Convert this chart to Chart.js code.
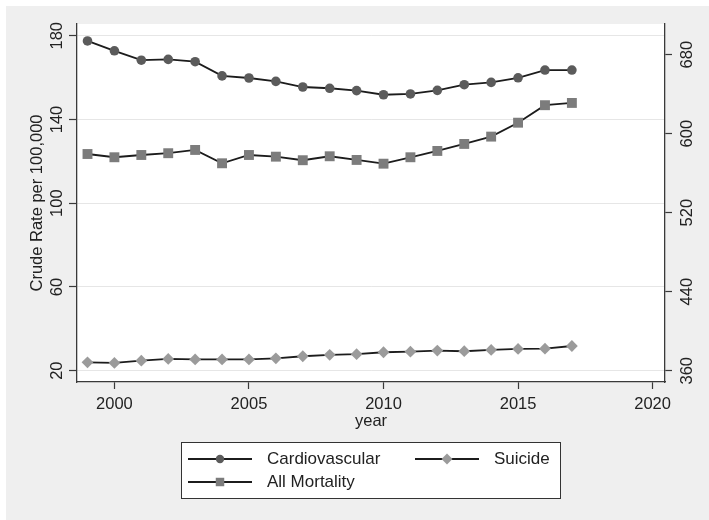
<!DOCTYPE html>
<html>
<head>
<meta charset="utf-8">
<script src="https://cdn.jsdelivr.net/npm/chart.js@4/dist/chart.umd.min.js"></script>
<style>
  html, body { margin: 0; padding: 0; background: #ffffff; }
  canvas { display: block; }
</style>
</head>
<body>
<canvas id="c" width="709" height="520"></canvas>
<script>
// Crude mortality rates per 100,000 by year
const years = [1999, 2000, 2001, 2002, 2003, 2004, 2005, 2006, 2007, 2008, 2009,
               2010, 2011, 2012, 2013, 2014, 2015, 2016, 2017];
const cardiovascular = [177.5, 172.8, 168.3, 168.7, 167.6, 160.8, 159.8, 158.2, 155.5, 154.9,
                        153.8, 151.8, 152.2, 153.9, 156.6, 157.7, 159.9, 163.6, 163.6];
const suicide = [24.0, 23.7, 24.8, 25.6, 25.4, 25.4, 25.4, 25.9, 26.9, 27.6,
                 27.9, 28.8, 29.1, 29.6, 29.3, 29.9, 30.4, 30.5, 31.8];
const allMortality = [579.4, 576.1, 578.4, 580.2, 583.5, 570.0, 578.4, 576.7, 573.1, 577.1,
                      573.4, 569.6, 576.1, 582.5, 589.6, 597.0, 611.1, 628.8, 631.1];

// Axis tick values
const xTicks = [2000, 2005, 2010, 2015, 2020];
const leftTicks = [20, 60, 100, 140, 180];
const rightTicks = [360, 440, 520, 600, 680];

const FONT = '"Liberation Sans", Arial, Helvetica, sans-serif';
const INK = '#222222';
const AXIS = '#3a3a3a';
const LINE = '#1c1c1c';

const toPoints = (vals) => years.map((x, i) => ({ x: x, y: vals[i] }));

const series = [
  { label: 'Cardiovascular', data: toPoints(cardiovascular), yAxisID: 'yL',
    pointStyle: 'circle', pointRadius: 4.8, pointBackgroundColor: '#5b5b5b' },
  { label: 'Suicide', data: toPoints(suicide), yAxisID: 'yL',
    pointStyle: 'rectRot', pointRadius: 5.9, pointBackgroundColor: '#9b9b9b' },
  { label: 'All Mortality', data: toPoints(allMortality), yAxisID: 'yR',
    pointStyle: 'rect', pointRadius: 7.0, pointBackgroundColor: '#7c7c7c' }
].map(d => Object.assign({
  borderColor: LINE, borderWidth: 1.8, pointBorderWidth: 0,
  pointHoverRadius: 0, tension: 0, fill: false
}, d));

// Legend entries laid out in two columns, two rows
const legendSlots = [
  { col: 0, row: 0 }, { col: 1, row: 0 }, { col: 0, row: 1 }
];

function drawMarker(ctx, style, x, y, r, color) {
  ctx.save();
  ctx.fillStyle = color;
  ctx.beginPath();
  if (style === 'circle') {
    ctx.arc(x, y, r, 0, Math.PI * 2);
  } else if (style === 'rect') {
    const s = r * Math.SQRT1_2;
    ctx.rect(x - s, y - s, 2 * s, 2 * s);
  } else {
    ctx.moveTo(x, y - r); ctx.lineTo(x + r, y); ctx.lineTo(x, y + r); ctx.lineTo(x - r, y);
    ctx.closePath();
  }
  ctx.fill();
  ctx.restore();
}

const framePlugin = {
  id: 'frame',
  beforeDraw(chart) {
    const { ctx, chartArea: a } = chart;
    ctx.save();
    ctx.fillStyle = '#efefef';
    ctx.fillRect(6, 6, chart.width - 6, chart.height - 6);
    ctx.fillStyle = '#ffffff';
    ctx.fillRect(a.left, a.top, a.right - a.left, a.bottom - a.top);
    ctx.restore();
  },
  afterDraw(chart) {
    const { ctx } = chart;
    ctx.save();
    ctx.fillStyle = INK;
    ctx.textAlign = 'center';
    ctx.textBaseline = 'middle';

    // vertical tick labels on both y axes
    ctx.font = '16.5px ' + FONT;
    const rotated = (text, x, y) => {
      ctx.save();
      ctx.translate(x, y);
      ctx.rotate(-Math.PI / 2);
      ctx.fillText(text, 0, 0);
      ctx.restore();
    };
    const yL = chart.scales.yL, yR = chart.scales.yR;
    yL.ticks.forEach(t => rotated(String(t.value), 57, yL.getPixelForValue(t.value)));
    yR.ticks.forEach(t => rotated(String(t.value), 687, yR.getPixelForValue(t.value)));

    // left axis title
    ctx.font = '16.5px ' + FONT;
    rotated('Crude Rate per 100,000', 37.5, (yL.top + yL.bottom) / 2);

    // legend box
    const box = { x: 181, y: 442, w: 380, h: 57 };
    ctx.fillStyle = '#ffffff';
    ctx.fillRect(box.x, box.y, box.w, box.h);
    ctx.strokeStyle = '#333333';
    ctx.lineWidth = 1;
    ctx.strokeRect(box.x + 0.5, box.y + 0.5, box.w - 1, box.h - 1);

    const colX = [188, 415];
    const rowY = [459, 482];
    const keyLen = 64;
    ctx.font = '17px ' + FONT;
    ctx.textAlign = 'left';
    chart.data.datasets.forEach((ds, i) => {
      const slot = legendSlots[i];
      const x0 = colX[slot.col], y0 = rowY[slot.row];
      ctx.strokeStyle = LINE;
      ctx.lineWidth = 1.8;
      ctx.beginPath();
      ctx.moveTo(x0, y0);
      ctx.lineTo(x0 + keyLen, y0);
      ctx.stroke();
      const r = ds.pointStyle === 'circle' ? 4.2 : ds.pointStyle === 'rect' ? 6.0 : 5.5;
      drawMarker(ctx, ds.pointStyle, x0 + keyLen / 2, y0, r, ds.pointBackgroundColor);
      ctx.fillStyle = INK;
      ctx.fillText(ds.label, x0 + keyLen + 15, y0);
    });
    ctx.restore();
  }
};

new Chart(document.getElementById('c'), {
  type: 'line',
  data: { datasets: series },
  options: {
    responsive: false,
    animation: false,
    devicePixelRatio: 1,
    layout: { padding: { left: 0, right: 0, top: 24, bottom: 88 } },
    plugins: { legend: { display: false }, tooltip: { enabled: false } },
    scales: {
      x: {
        type: 'linear', position: 'bottom',
        min: 1998.61, max: 2020.46,
        afterBuildTicks: s => { s.ticks = xTicks.map(v => ({ value: v })); },
        afterFit: s => { s.height = 50; },
        grid: { drawOnChartArea: false, tickLength: 7, tickColor: AXIS, tickWidth: 1.2 },
        border: { color: AXIS, width: 1.3 },
        ticks: { color: INK, padding: 6, maxRotation: 0, font: { family: FONT, size: 16.5 },
                 callback: v => String(v) },
        title: { display: true, text: 'year', color: INK, padding: { top: 0, bottom: 1 },
                 font: { family: FONT, size: 16.5 } }
      },
      yL: {
        type: 'linear', position: 'left',
        min: 14.6, max: 185.6,
        afterBuildTicks: s => { s.ticks = leftTicks.map(v => ({ value: v })); },
        afterFit: s => { s.width = 77; },
        grid: { color: '#e6e6e6', lineWidth: 1, tickLength: 8, tickColor: AXIS, tickWidth: 1.2 },
        border: { color: AXIS, width: 1.3 },
        ticks: { display: false }
      },
      yR: {
        type: 'linear', position: 'right',
        min: 348.6, max: 711,
        afterBuildTicks: s => { s.ticks = rightTicks.map(v => ({ value: v })); },
        afterFit: s => { s.width = 44; },
        grid: { drawOnChartArea: false, tickLength: 7, tickColor: AXIS, tickWidth: 1.2 },
        border: { color: AXIS, width: 1.3 },
        ticks: { display: false }
      }
    }
  },
  plugins: [framePlugin]
});
</script>
</body>
</html>
